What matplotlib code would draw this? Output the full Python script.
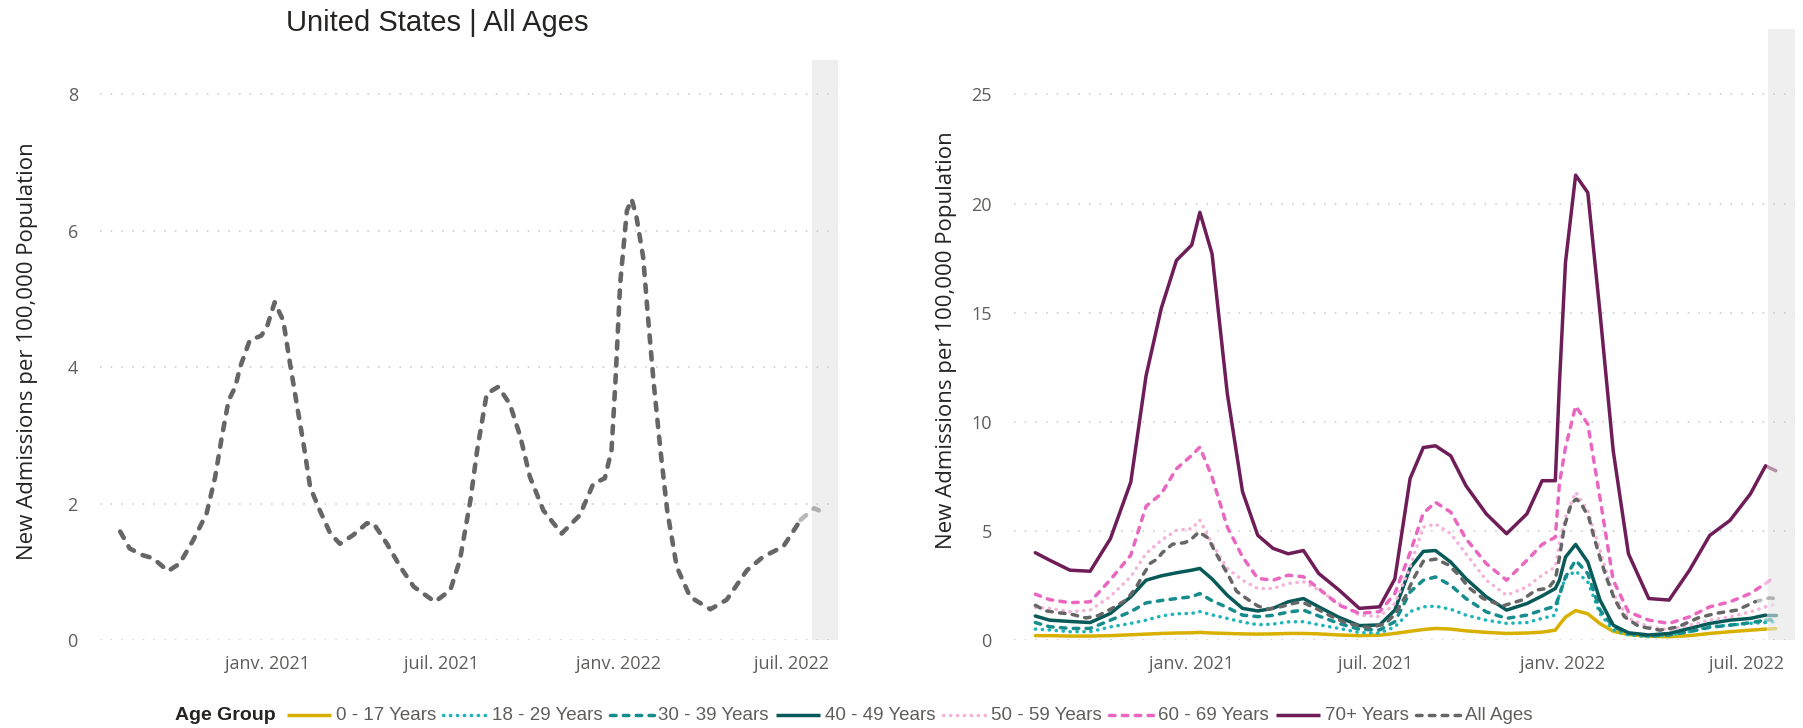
"""Weekly new COVID-19 hospital admissions per 100k, US, all ages and by age group."""
import datetime as dt

import matplotlib

matplotlib.use("Agg")
import matplotlib.pyplot as plt
from matplotlib.lines import Line2D

TITLE = "United States | All Ages"
Y_LABEL = "New Admissions per 100,000 Population"
LEGEND_TITLE = "Age Group"

TICK_DATES = ["2021-01-01", "2021-07-01", "2022-01-01", "2022-07-01"]
TICK_LABELS = ["janv. 2021", "juil. 2021", "janv. 2022", "juil. 2022"]
X_RANGE = ["2020-07-10", "2022-08-18"]
INCOMPLETE_FROM = "2022-07-22"  # shaded period, data not final yet

LEFT_YTICKS = [0, 2, 4, 6, 8]
RIGHT_YTICKS = [0, 5, 10, 15, 20, 25]

# all ages
ALL_AGES_DATES = [
    "2020-07-31", "2020-08-10", "2020-08-24", "2020-09-03", "2020-09-19", "2020-10-01",
    "2020-10-15", "2020-10-29", "2020-11-07", "2020-11-14", "2020-11-21", "2020-11-28",
    "2020-12-03", "2020-12-13", "2020-12-25", "2020-12-31", "2021-01-08", "2021-01-17",
    "2021-01-24", "2021-01-31", "2021-02-07", "2021-02-14", "2021-02-24", "2021-03-07",
    "2021-03-17", "2021-03-31", "2021-04-14", "2021-04-21", "2021-05-05", "2021-05-19",
    "2021-06-02", "2021-06-24", "2021-07-10", "2021-07-20", "2021-07-31", "2021-08-07",
    "2021-08-17", "2021-08-29", "2021-09-10", "2021-09-21", "2021-10-01", "2021-10-15",
    "2021-11-03", "2021-11-22", "2021-12-06", "2021-12-18", "2021-12-25", "2021-12-29",
    "2022-01-03", "2022-01-10", "2022-01-15", "2022-01-20", "2022-01-27", "2022-02-01",
    "2022-02-07", "2022-02-14", "2022-02-21", "2022-03-03", "2022-03-17", "2022-04-07",
    "2022-04-24", "2022-05-15", "2022-06-01", "2022-06-22", "2022-07-10", "2022-07-24",
    "2022-07-29",
]
ALL_AGES = [
    1.59, 1.34, 1.24, 1.20, 1.01, 1.12,
    1.46, 1.85, 2.39, 2.98, 3.51, 3.71,
    4.00, 4.39, 4.46, 4.59, 4.95, 4.68,
    4.05, 3.46, 2.88, 2.24, 1.90, 1.56,
    1.41, 1.54, 1.71, 1.71, 1.41, 1.07,
    0.78, 0.56, 0.73, 1.17, 2.05, 2.78,
    3.61, 3.71, 3.46, 2.98, 2.39, 1.90,
    1.56, 1.83, 2.29, 2.37, 2.78, 3.76,
    5.22, 6.29, 6.46, 6.20, 5.61, 4.73,
    3.76, 2.78, 1.90, 1.07, 0.63, 0.45,
    0.59, 1.02, 1.22, 1.37, 1.76, 1.93,
    1.90,
]

# age groups
AGE_DATES = [
    "2020-07-31", "2020-08-14", "2020-09-03", "2020-09-23", "2020-10-13", "2020-11-02",
    "2020-11-17", "2020-12-02", "2020-12-17", "2021-01-01", "2021-01-09", "2021-01-21",
    "2021-02-05", "2021-02-20", "2021-03-07", "2021-03-22", "2021-04-06", "2021-04-21",
    "2021-05-06", "2021-05-26", "2021-06-15", "2021-07-05", "2021-07-20", "2021-08-04",
    "2021-08-17", "2021-08-29", "2021-09-13", "2021-09-28", "2021-10-18", "2021-11-07",
    "2021-11-27", "2021-12-12", "2021-12-25", "2021-12-29", "2022-01-04", "2022-01-14",
    "2022-01-26", "2022-02-07", "2022-02-20", "2022-03-07", "2022-03-27", "2022-04-16",
    "2022-05-06", "2022-05-26", "2022-06-15", "2022-07-05", "2022-07-20", "2022-07-30",
]
AGE_0_17 = [
    0.20, 0.20, 0.18, 0.18, 0.20, 0.24, 0.27, 0.30, 0.32, 0.33, 0.35, 0.32,
    0.30, 0.28, 0.27, 0.28, 0.30, 0.30, 0.28, 0.23, 0.20, 0.22, 0.30, 0.40,
    0.48, 0.53, 0.50, 0.42, 0.35, 0.30, 0.32, 0.36, 0.45, 0.70, 1.05, 1.35,
    1.20, 0.75, 0.40, 0.25, 0.17, 0.15, 0.20, 0.30, 0.38, 0.45, 0.50, 0.52,
]
AGE_18_29 = [
    0.50, 0.46, 0.38, 0.38, 0.60, 0.76, 0.91, 1.10, 1.20, 1.22, 1.30, 1.15,
    0.99, 0.82, 0.70, 0.73, 0.83, 0.84, 0.70, 0.53, 0.34, 0.32, 0.60, 1.30,
    1.52, 1.55, 1.41, 1.14, 0.91, 0.76, 0.80, 0.99, 1.14, 2.10, 2.85, 3.16,
    2.66, 1.20, 0.46, 0.23, 0.15, 0.23, 0.38, 0.61, 0.68, 0.76, 0.80, 0.84,
]
AGE_30_39 = [
    0.80, 0.61, 0.53, 0.53, 0.91, 1.30, 1.70, 1.81, 1.90, 1.98, 2.13, 1.80,
    1.49, 1.14, 1.07, 1.13, 1.28, 1.37, 1.10, 0.76, 0.49, 0.46, 0.84, 2.20,
    2.74, 2.89, 2.51, 1.90, 1.29, 0.99, 1.14, 1.37, 1.55, 2.05, 2.89, 3.65,
    3.04, 1.37, 0.61, 0.30, 0.18, 0.23, 0.38, 0.58, 0.68, 0.79, 0.91, 0.94,
]
AGE_40_49 = [
    1.10, 0.91, 0.85, 0.80, 1.22, 1.98, 2.74, 2.94, 3.08, 3.20, 3.28, 2.80,
    2.05, 1.45, 1.33, 1.45, 1.75, 1.90, 1.52, 1.04, 0.66, 0.69, 1.37, 3.30,
    4.06, 4.10, 3.57, 2.81, 1.98, 1.37, 1.67, 2.02, 2.36, 2.74, 3.80, 4.38,
    3.57, 1.83, 0.68, 0.33, 0.23, 0.30, 0.53, 0.76, 0.91, 0.99, 1.14, 1.14,
]
AGE_50_59 = [
    1.50, 1.45, 1.30, 1.37, 2.00, 2.90, 3.96, 4.57, 5.03, 5.10, 5.49, 4.42,
    3.28, 2.74, 2.36, 2.36, 2.59, 2.67, 2.29, 1.68, 1.14, 1.07, 1.68, 3.35,
    5.17, 5.32, 4.87, 3.95, 2.74, 2.05, 2.43, 2.97, 3.35, 4.41, 5.63, 6.77,
    5.93, 4.11, 2.13, 0.99, 0.61, 0.46, 0.68, 0.91, 1.06, 1.29, 1.52, 1.64,
]
AGE_60_69 = [
    2.10, 1.85, 1.71, 1.75, 2.77, 3.89, 6.13, 6.70, 7.85, 8.46, 8.84, 7.47,
    5.18, 3.81, 2.82, 2.74, 2.97, 2.90, 2.36, 1.60, 1.22, 1.30, 2.13, 4.00,
    5.81, 6.31, 5.86, 4.64, 3.50, 2.74, 3.65, 4.38, 4.71, 7.15, 8.82, 10.72,
    9.89, 6.50, 2.74, 1.29, 0.91, 0.76, 1.06, 1.52, 1.75, 2.13, 2.59, 2.92,
]
AGE_70_PLUS = [
    4.00, 3.66, 3.20, 3.15, 4.65, 7.24, 12.10, 15.20, 17.40, 18.10, 19.60, 17.70,
    11.30, 6.80, 4.80, 4.20, 3.95, 4.10, 3.05, 2.29, 1.45, 1.52, 2.80, 7.40,
    8.82, 8.90, 8.44, 7.07, 5.78, 4.87, 5.78, 7.30, 7.30, 11.70, 17.30, 21.30,
    20.50, 15.00, 8.67, 3.95, 1.90, 1.83, 3.19, 4.79, 5.48, 6.69, 7.98, 7.76,
]

AGE_GROUPS = ["0 - 17 Years", "18 - 29 Years", "30 - 39 Years", "40 - 49 Years",
              "50 - 59 Years", "60 - 69 Years", "70+ Years", "All Ages"]
AGE_SERIES = [AGE_0_17, AGE_18_29, AGE_30_39, AGE_40_49, AGE_50_59, AGE_60_69, AGE_70_PLUS]

DASHED = (0, (1.6, 2.1))
DOTTED = (0, (0.1, 1.9))
STYLES = {
    "0 - 17 Years": dict(color="#D8B000", ls="-"),
    "18 - 29 Years": dict(color="#1DB5B8", ls=DOTTED),
    "30 - 39 Years": dict(color="#168C8C", ls=DASHED),
    "40 - 49 Years": dict(color="#075A58", ls="-"),
    "50 - 59 Years": dict(color="#F3B3DA", ls=DOTTED),
    "60 - 69 Years": dict(color="#E967C0", ls=DASHED),
    "70+ Years": dict(color="#6E1D58", ls="-"),
    "All Ages": dict(color="#666666", ls=DASHED),
}

TICK_FONT = ["Open Sans", "DejaVu Sans"]
HEAD_FONT = ["Liberation Sans", "DejaVu Sans"]
TEXT_GREY = "#605E5C"
GRID_GREY = "#C8C6C4"
BAND_GREY = "#EFEFEF"

W, H = 1803, 728


def to_dates(strings):
    return [dt.date.fromisoformat(s) for s in strings]


def plot_series(ax, dates, values, lw, **style):
    """Draw the series; the part inside the shaded (incomplete) period is faded."""
    cut = dt.date.fromisoformat(INCOMPLETE_FROM)
    n = sum(1 for d in dates if d < cut)
    kw = dict(color=style["color"], ls=style["ls"], lw=lw,
              dash_capstyle="round", solid_capstyle="round", solid_joinstyle="round")
    ax.plot(dates[:n], values[:n], **kw)
    if n < len(dates):
        ax.plot(dates[n - 1:], values[n - 1:], alpha=0.45, **kw)


def style_axes(ax, yticks, ylim, label_x, label_y):
    ax.set_xlim(to_dates(X_RANGE))
    ax.set_ylim(*ylim)
    ax.axvspan(dt.date.fromisoformat(INCOMPLETE_FROM), dt.date.fromisoformat(X_RANGE[1]),
               color=BAND_GREY, lw=0, zorder=0)
    ax.set_yticks(yticks)
    ax.set_xticks(to_dates(TICK_DATES))
    ax.set_xticklabels(TICK_LABELS)
    ax.grid(axis="y", color=GRID_GREY, ls=(0, (1, 6)), lw=1.1)
    ax.set_axisbelow(True)
    for sp in ax.spines.values():
        sp.set_visible(False)
    ax.tick_params(length=0, labelcolor=TEXT_GREY, labelsize=13)
    ax.tick_params(axis="y", pad=16)
    ax.tick_params(axis="x", pad=11)
    for t in ax.get_xticklabels() + ax.get_yticklabels():
        t.set_family(TICK_FONT)
    ax.set_ylabel(Y_LABEL, fontsize=16, color="#252423", family=TICK_FONT)
    ax.yaxis.set_label_coords(label_x, label_y)


fig = plt.figure(figsize=(W / 100, H / 100), dpi=100)

# left: all ages
ax1 = fig.add_axes([100 / W, 88 / H, 738 / W, 580 / H])
plot_series(ax1, to_dates(ALL_AGES_DATES), ALL_AGES, 3.3, **STYLES["All Ages"])
style_axes(ax1, LEFT_YTICKS, (0, 8.5), -0.084, 0.498)
fig.text(437 / W, 1 - 23 / H, TITLE, ha="center", va="center", fontsize=21,
         color="#252423", family=HEAD_FONT)

# right: by age group
ax2 = fig.add_axes([1014 / W, 88 / H, 781 / W, 611 / H])
age_dates = to_dates(AGE_DATES)
for name, vals in zip(AGE_GROUPS, AGE_SERIES):
    plot_series(ax2, age_dates, vals, 2.5, **STYLES[name])
plot_series(ax2, to_dates(ALL_AGES_DATES), ALL_AGES, 2.5, **STYLES["All Ages"])
style_axes(ax2, RIGHT_YTICKS, (0, 28), -0.073, 0.49)

# legend row, laid out left to right from measured text widths
renderer = fig.canvas.get_renderer()
y_leg = 1 - 715 / H
x = 175
t = fig.text(x / W, y_leg, LEGEND_TITLE, ha="left", va="center", fontsize=14,
             fontweight="bold", color="#252423", family=HEAD_FONT)
x += t.get_window_extent(renderer).width + 11
for name in AGE_GROUPS:
    st = STYLES[name]
    fig.add_artist(Line2D([x / W, (x + 44) / W], [y_leg, y_leg], transform=fig.transFigure,
                          color=st["color"], ls=st["ls"], lw=2.5,
                          dash_capstyle="round", solid_capstyle="butt"))
    x += 49
    t = fig.text(x / W, y_leg, name, ha="left", va="center", fontsize=13.5,
                 color=TEXT_GREY, family=HEAD_FONT)
    x += t.get_window_extent(renderer).width + 7

fig.savefig("out.png", dpi=100, facecolor="white")
